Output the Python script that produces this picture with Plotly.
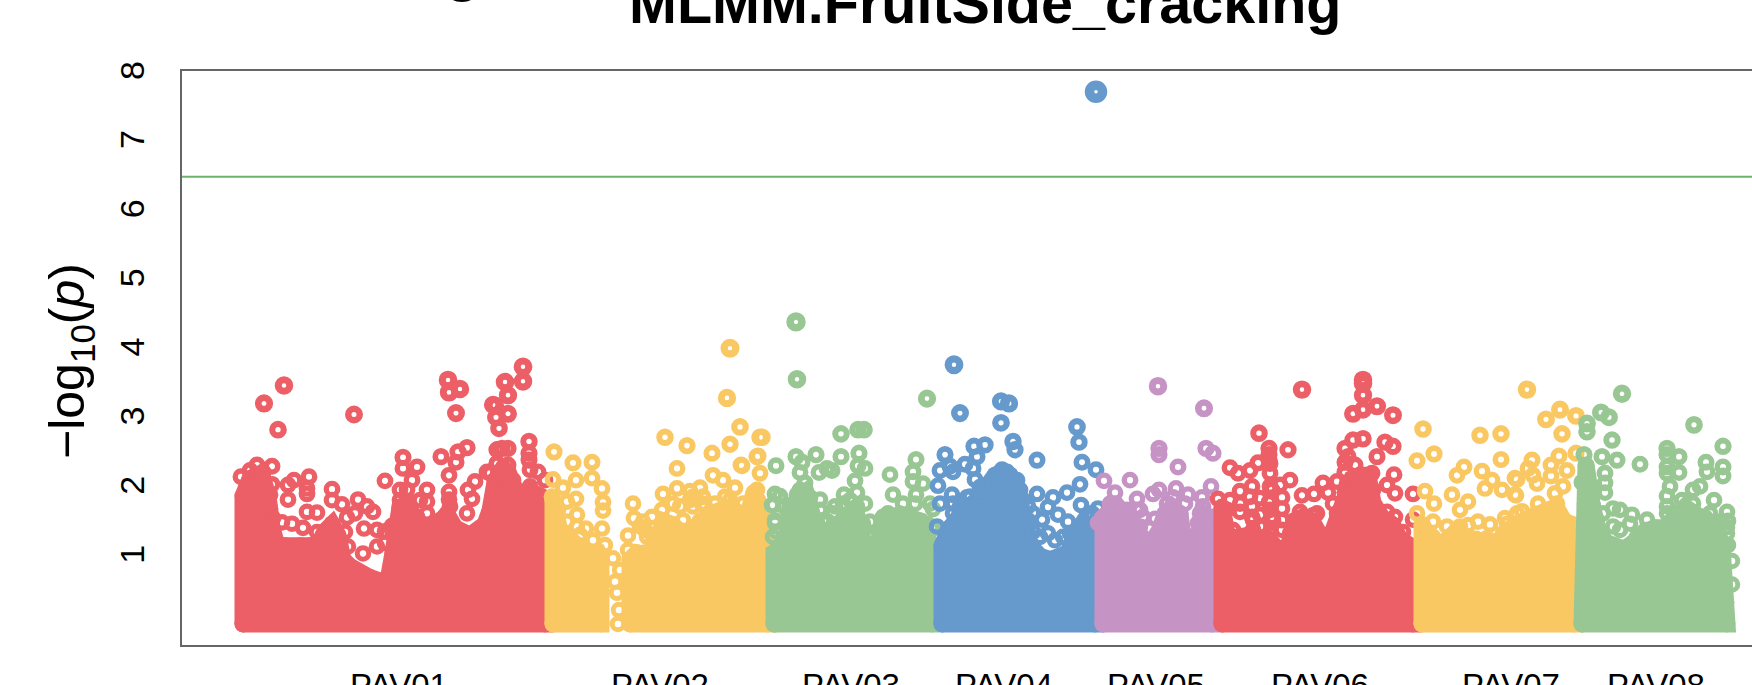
import numpy as np
import plotly.graph_objects as go

# ---------- axis content ----------
chrom_labels = ["PAV01", "PAV02", "PAV03", "PAV04", "PAV05", "PAV06", "PAV07", "PAV08"]
chrom_label_pos = [399, 660, 851, 1004, 1156, 1320, 1511, 1656]
y_ticks = [1, 2, 3, 4, 5, 6, 7, 8]
threshold = 6.47
title_main = "MLMM.FruitSide_cracking"

RED, YEL, GRN, BLU, PUR = "#EC5F67", "#FAC863", "#99C794", "#6699CC", "#C594C5"

# ---------- upper edge of the solid mass of overlapping points, per chromosome block ----------
mass1_x = [243, 243, 250, 257, 263, 268, 272, 278, 285, 300, 310, 318, 325, 332, 338, 343, 350, 360, 370, 380, 388, 393, 398, 400, 408, 416, 425, 435, 447, 455, 470, 478, 485, 490, 495, 503, 508, 515, 520, 527, 533, 540, 545, 545]
mass1_y = [0, 1.85, 2.1, 2.15, 2.1, 1.85, 1.39, 1.08, 1.13, 1.13, 1.13, 1.13, 1.34, 1.44, 1.28, 0.93, 0.83, 0.72, 0.67, 0.62, 0.62, 1.03, 1.44, 1.69, 1.74, 1.44, 1.39, 1.39, 1.59, 1.39, 1.28, 1.34, 1.44, 1.64, 2.05, 2.25, 2.2, 1.95, 1.59, 1.69, 1.9, 1.85, 1.44, 0]
mass2a_x = [553, 553, 560, 568, 578, 590, 598, 601, 601]
mass2a_y = [0, 1.79, 1.34, 1.23, 1.13, 1.03, 1.03, 0.93, 0]
mass2b_x = [630, 630, 637, 645, 652, 658, 663, 672, 680, 690, 700, 710, 720, 730, 740, 748, 754, 760, 765, 768]
mass2b_y = [0, 0.93, 1.03, 1.03, 0.98, 1.18, 1.49, 1.44, 1.34, 1.34, 1.49, 1.59, 1.64, 1.69, 1.59, 1.59, 1.9, 1.69, 1.34, 0]
mass3_x = [774, 774, 780, 786, 790, 798, 806, 812, 818, 826, 834, 842, 850, 856, 862, 870, 876, 882, 890, 900, 910, 920, 928, 932, 932]
mass3_y = [0, 1.03, 1.08, 1.13, 1.69, 1.79, 1.9, 1.59, 1.39, 1.34, 1.39, 1.44, 1.59, 1.64, 1.23, 1.08, 1.03, 1.44, 1.54, 1.59, 1.54, 1.49, 1.23, 1.08, 0]
mass4_x = [942, 942, 950, 958, 968, 977, 987, 995, 1002, 1010, 1016, 1022, 1030, 1040, 1050, 1060, 1068, 1075, 1082, 1090, 1095, 1095]
mass4_y = [0, 1.13, 1.39, 1.54, 1.69, 1.79, 2.0, 2.15, 2.2, 2.15, 2.0, 1.5, 1.13, 0.98, 0.93, 0.98, 1.03, 1.28, 1.44, 1.34, 1.23, 0]
mass5_x = [1103, 1103, 1110, 1118, 1126, 1134, 1142, 1150, 1158, 1165, 1172, 1180, 1184, 1192, 1198, 1204, 1210, 1212]
mass5_y = [0, 1.54, 1.64, 1.69, 1.54, 1.44, 1.23, 1.18, 1.28, 1.59, 1.69, 1.59, 1.18, 1.13, 1.23, 1.59, 1.54, 0]
mass6_x = [1222, 1222, 1228, 1238, 1248, 1258, 1268, 1278, 1288, 1294, 1302, 1312, 1320, 1330, 1338, 1345, 1352, 1360, 1368, 1373, 1382, 1392, 1400, 1410, 1413]
mass6_y = [0, 1.69, 1.23, 1.23, 1.28, 1.13, 1.23, 1.08, 1.08, 1.49, 1.54, 1.49, 1.28, 1.23, 1.55, 1.9, 2.1, 2.15, 2.15, 1.75, 1.54, 1.44, 1.23, 1.13, 0]
mass7_x = [1422, 1422, 1430, 1438, 1448, 1456, 1466, 1476, 1486, 1496, 1506, 1516, 1526, 1536, 1546, 1556, 1564, 1572, 1574]
mass7_y = [0, 1.44, 1.23, 1.08, 1.23, 1.34, 1.23, 1.23, 1.23, 1.18, 1.28, 1.44, 1.49, 1.59, 1.64, 1.69, 1.49, 1.44, 0]
mass8_x = [1582, 1582, 1586, 1592, 1598, 1606, 1614, 1624, 1634, 1645, 1655, 1665, 1675, 1685, 1695, 1705, 1715, 1722, 1726, 1727]
mass8_y = [0, 2.05, 2.3, 1.74, 1.34, 1.18, 1.13, 1.08, 1.18, 1.34, 1.39, 1.39, 1.54, 1.69, 1.59, 1.54, 1.44, 1.13, 0.31, 0]

# ---------- individually visible points, per chromosome ----------
chr1_x = [284, 264, 278, 354, 448, 449, 460, 456, 272, 241, 257, 250, 263, 309, 294, 288, 272, 288, 307, 307, 270, 332, 332, 342, 358, 367, 373, 307, 317, 347, 282, 364, 377, 392, 385, 303, 385, 403, 403, 417, 412, 400, 427, 400, 427, 441, 467, 458, 456, 449, 449, 449, 475, 468, 472, 487, 497, 497, 497,
          523, 523, 505, 508, 493, 508, 496, 499, 495, 529, 529, 529, 502, 508, 498, 490, 497, 508, 505, 500, 513, 530, 538, 545, 530, 493, 490,
          270, 273, 292, 317, 332, 333, 345, 348, 363, 355, 377, 385, 393, 400, 417, 427, 440, 450, 467, 420, 407]
chr1_y = [3.45, 3.19, 2.81, 3.03, 3.53, 3.35, 3.40, 3.05, 2.28, 2.13, 2.30, 2.22, 2.20, 2.13, 2.08, 2.01, 2.02, 1.80, 1.88, 1.96, 1.87, 1.95, 1.79, 1.73, 1.80, 1.70, 1.62, 1.62, 1.61, 1.54, 1.47, 1.38, 1.36, 1.42, 1.34, 1.39, 2.07, 2.41, 2.25, 2.27, 2.08, 1.94, 1.94, 1.79, 1.77, 2.42, 2.55, 2.49, 2.34, 2.15, 1.91, 1.80, 2.06, 1.94, 1.81, 2.20, 2.32, 2.08, 2.52,
          3.72, 3.51, 3.50, 3.31, 3.17, 3.04, 2.99, 2.83, 3.16, 2.64, 2.47, 2.37, 2.54, 2.54, 2.52, 2.18, 2.32, 2.30, 2.18, 2.04, 2.08, 2.23, 2.20, 2.08, 1.99, 1.74, 1.62,
          1.67, 1.53, 1.45, 1.33, 1.45, 1.17, 1.33, 1.12, 1.02, 1.60, 1.12, 1.17, 1.31, 1.65, 1.55, 1.60, 1.50, 1.70, 1.60, 1.79, 1.94]
chr2_x = [554, 573, 592, 576, 592, 553, 563, 602, 603, 603, 576, 567, 577, 602, 586, 580, 605, 613, 620, 615, 633, 634, 628, 643, 652, 645, 653, 628, 663, 677, 677, 665, 687, 712, 740, 730, 741, 727, 730, 760, 757, 713, 723, 700, 690, 735, 705, 715, 662, 673, 690, 743,
          762, 758, 742, 760, 757, 758, 618, 619, 617,
          552, 558, 567, 577, 593, 640, 647, 652, 680, 693, 702, 725, 730, 693, 703, 683]
chr2_y = [2.49, 2.33, 2.34, 2.08, 2.11, 2.09, 1.97, 1.96, 1.76, 1.64, 1.81, 1.77, 1.58, 1.38, 1.38, 1.29, 1.14, 0.95, 0.78, 0.61, 1.74, 1.53, 1.28, 1.48, 1.55, 1.36, 1.21, 1.07, 1.88, 1.96, 2.25, 2.70, 2.58, 2.47, 2.85, 2.60, 2.30, 3.27, 3.99, 2.70, 2.42, 2.15, 2.08, 1.97, 1.92, 1.97, 1.70, 1.74, 1.65, 1.74, 1.79, 1.74,
          2.70, 2.43, 2.29, 2.18, 1.94, 1.79, 0.0, 0.2, 0.45,
          1.84, 1.65, 1.48, 1.41, 1.21, 1.41, 1.26, 1.02, 1.70, 1.70, 1.74, 1.84, 1.79, 1.84, 1.84, 1.50]
chr3_x = [796, 797, 927, 841, 858, 864, 776, 796, 802, 816, 841, 859, 819, 827, 832, 800, 858, 865, 855, 805, 890, 916, 913, 913, 923, 775, 780, 772, 797, 810, 820, 820, 784, 844, 857, 865, 835, 893, 903, 916, 930, 933, 915, 883, 828, 860, 870, 937, 773, 775,
          773, 775, 777, 800, 790, 807, 833, 850, 857, 863, 873, 888, 927, 932, 843, 823, 817]
chr3_y = [4.37, 3.54, 3.26, 2.75, 2.81, 2.81, 2.29, 2.42, 2.34, 2.45, 2.42, 2.47, 2.19, 2.25, 2.22, 2.19, 2.29, 2.25, 2.07, 2.04, 2.16, 2.38, 2.20, 2.06, 2.03, 1.88, 1.85, 1.72, 1.87, 1.83, 1.80, 1.65, 1.70, 1.87, 1.90, 1.74, 1.70, 1.87, 1.74, 1.87, 1.74, 1.66, 1.74, 1.55, 1.48, 1.47, 1.48, 1.23, 1.26, 1.46,
          1.72, 1.50, 1.33, 1.94, 1.70, 1.70, 1.60, 1.79, 1.70, 1.45, 1.26, 1.60, 1.45, 1.40, 1.74, 1.50, 1.45]
chr4_x = [1096, 954, 960, 1001, 1009, 1001, 1013, 1015, 945, 974, 985, 977, 940, 953, 950, 965, 973, 975, 938, 952, 953, 1002, 1010, 990, 967, 985,
          1037, 1077, 1079, 1082, 1096, 1080, 1037, 1053, 1067, 1048, 1058, 1068, 1042, 1033, 1028, 1081, 1098, 1048, 1055, 1020, 1007, 1013,
          937, 940, 953, 960, 970, 980, 980, 993, 1000, 1017, 1023, 1028, 1033, 1040, 1063, 1070, 1087, 1092]
chr4_y = [7.70, 3.75, 3.05, 3.22, 3.19, 2.91, 2.64, 2.52, 2.45, 2.57, 2.59, 2.42, 2.22, 2.20, 2.28, 2.31, 2.25, 2.09, 2.00, 1.87, 1.74, 2.23, 2.13, 2.03, 1.83, 1.94,
          2.37, 2.85, 2.63, 2.34, 2.23, 2.02, 1.88, 1.83, 1.90, 1.69, 1.58, 1.48, 1.51, 1.60, 1.70, 1.72, 1.67, 1.31, 1.21, 1.94, 2.20, 2.08,
          1.41, 1.74, 1.60, 1.70, 1.84, 1.98, 1.70, 2.03, 2.18, 2.08, 1.79, 1.50, 1.33, 1.26, 1.26, 1.31, 1.55, 1.60]
chr5_x = [1158, 1204, 1159, 1159, 1206, 1213, 1178, 1130, 1104, 1115, 1137, 1153, 1159, 1176, 1188, 1202, 1211, 1167, 1155, 1140, 1200, 1198, 1115, 1173, 1185, 1098,
          1110, 1117, 1127, 1137, 1143, 1150, 1157, 1165, 1173, 1180, 1200, 1197, 1203, 1213, 1140]
chr5_y = [3.44, 3.12, 2.54, 2.45, 2.54, 2.47, 2.27, 2.08, 2.07, 1.90, 1.81, 1.88, 1.94, 1.96, 1.87, 1.83, 1.99, 1.74, 1.52, 1.65, 1.60, 1.46, 1.74, 1.83, 1.74, 1.46,
          1.74, 1.60, 1.65, 1.65, 1.55, 1.38, 1.31, 1.60, 1.70, 1.60, 1.41, 1.31, 1.70, 1.55, 1.41]
chr6_x = [1259, 1269, 1269, 1230, 1238, 1250, 1258, 1270, 1270, 1218, 1240, 1252, 1252, 1240, 1272, 1227, 1222,
          1302, 1363, 1363, 1363, 1353, 1363, 1377, 1393, 1288, 1269, 1353, 1363, 1345, 1348, 1345, 1377, 1385, 1393, 1290, 1394, 1387, 1395, 1413, 1302, 1314, 1328, 1323, 1337, 1280, 1282, 1270, 1269, 1282, 1272, 1260, 1300, 1313, 1337, 1345, 1372, 1413, 1387, 1395,
          1252, 1260, 1260, 1270, 1282, 1282, 1270, 1250, 1253, 1290, 1298, 1347, 1337, 1383, 1387, 1403, 1380, 1317, 1333, 1347, 1355, 1373, 1345, 1230, 1240, 1253, 1233, 1263, 1273]
chr6_y = [2.76, 2.54, 2.45, 2.26, 2.18, 2.22, 2.33, 2.32, 2.18, 1.81, 1.92, 1.99, 1.70, 1.62, 1.94, 1.65, 1.46,
          3.39, 3.53, 3.48, 3.31, 3.04, 3.10, 3.15, 3.02, 2.52, 2.38, 2.66, 2.68, 2.54, 2.42, 2.34, 2.42, 2.63, 2.57, 2.08, 2.16, 2.01, 1.89, 1.88, 1.86, 1.88, 1.90, 2.04, 2.06, 2.01, 1.83, 1.99, 1.76, 1.67, 1.55, 1.41, 1.62, 1.57, 1.60, 2.18, 2.18, 1.51, 1.62, 1.55,
          1.55, 1.82, 1.58, 1.65, 1.50, 1.36, 1.31, 1.84, 1.36, 1.31, 1.17, 1.43, 1.33, 1.41, 1.26, 1.33, 1.50, 1.60, 1.74, 2.03, 2.30, 1.94, 2.20, 1.79, 1.74, 1.50, 1.36, 1.41, 1.50]
chr7_x = [1423, 1434, 1417, 1480, 1501, 1501, 1464, 1457, 1482, 1492, 1485, 1502, 1515, 1515, 1452, 1425, 1434, 1468, 1460, 1478, 1505, 1490, 1417,
          1527, 1560, 1546, 1576, 1562, 1559, 1576, 1551, 1567, 1551, 1532, 1528, 1533, 1537, 1517, 1516, 1555, 1563, 1538, 1522,
          1433, 1433, 1447, 1447, 1460, 1468, 1503, 1490, 1517, 1515, 1507, 1505, 1530, 1522, 1557, 1550, 1513]
chr7_y = [2.82, 2.46, 2.36, 2.73, 2.75, 2.38, 2.27, 2.15, 2.21, 2.08, 1.96, 1.94, 2.11, 1.87, 1.87, 1.92, 1.74, 1.77, 1.65, 1.48, 1.53, 1.44, 1.60,
          3.39, 3.10, 2.96, 3.01, 2.75, 2.43, 2.47, 2.30, 2.22, 2.14, 2.37, 2.25, 2.15, 2.03, 2.09, 1.86, 1.89, 1.99, 1.74, 1.63,
          1.48, 1.26, 1.07, 1.41, 1.41, 1.43, 1.31, 1.21, 1.60, 1.36, 1.45, 1.26, 1.43, 1.45, 1.74, 1.60, 1.17]
chr8_x = [1622, 1601, 1609, 1587, 1587, 1612, 1694, 1723, 1602, 1617, 1640, 1584, 1605, 1605, 1605, 1667, 1667, 1679, 1667, 1679, 1667, 1706, 1707, 1723, 1723, 1670, 1667, 1700, 1693, 1682, 1714, 1727, 1728, 1727, 1728, 1732, 1732, 1613, 1620, 1632, 1647, 1667, 1678, 1585, 1595, 1633,
          1593, 1597, 1603, 1613, 1620, 1630, 1637, 1647, 1657, 1667, 1677, 1683, 1693, 1710, 1720, 1727, 1725]
chr8_y = [3.33, 3.06, 2.99, 2.90, 2.78, 2.66, 2.88, 2.57, 2.42, 2.37, 2.31, 2.45, 2.18, 2.04, 1.90, 2.54, 2.45, 2.42, 2.27, 2.19, 2.18, 2.34, 2.20, 2.27, 2.14, 1.99, 1.85, 1.99, 1.94, 1.79, 1.79, 1.62, 1.49, 1.31, 1.14, 0.91, 0.57, 1.67, 1.65, 1.58, 1.51, 1.60, 1.26, 1.74, 1.51, 1.17,
          1.70, 1.50, 1.60, 1.41, 1.36, 1.45, 1.26, 1.26, 1.26, 1.70, 1.36, 1.60, 1.74, 1.60, 1.48, 1.40, 1.12]

blocks = [
    (RED, [(mass1_x, mass1_y)], chr1_x, chr1_y),
    (YEL, [(mass2a_x, mass2a_y), (mass2b_x, mass2b_y)], chr2_x, chr2_y),
    (GRN, [(mass3_x, mass3_y)], chr3_x, chr3_y),
    (BLU, [(mass4_x, mass4_y)], chr4_x, chr4_y),
    (PUR, [(mass5_x, mass5_y)], chr5_x, chr5_y),
    (RED, [(mass6_x, mass6_y)], chr6_x, chr6_y),
    (YEL, [(mass7_x, mass7_y)], chr7_x, chr7_y),
    (GRN, [(mass8_x, mass8_y)], chr8_x, chr8_y),
]

fig = go.Figure()
for colour, masses, px, py in blocks:
    for mx, my in masses:
        fig.add_trace(go.Scatter(x=list(mx) + [mx[0]], y=list(my) + [my[0]], mode="lines+markers",
                                 fill="toself", fillcolor=colour,
                                 line=dict(color=colour, width=17),
                                 marker=dict(symbol="circle", size=17, color=colour, line=dict(width=0)),
                                 hoverinfo="skip", showlegend=False))
    ya = np.array(py, dtype=float)
    fig.add_trace(go.Scatter(x=px, y=py, mode="markers", showlegend=False,
                             marker=dict(symbol="circle-open", color=colour, opacity=1,
                                         size=np.interp(ya, [1, 3.4, 7.7], [11.5, 11.5, 13]),
                                         line=dict(color=colour, width=np.interp(ya, [1, 2.25, 3.4, 7.7], [5, 5.4, 7, 9.5])))))

fig.add_shape(type="line", xref="paper", x0=0, x1=1, yref="y", y0=threshold, y1=threshold,
              line=dict(color="#6DB36D", width=2), layer="above")

FONT = "Liberation Sans, Arial, sans-serif"
P_W, P_H = 1570, 574
def px_x(p): return (p - 182) / P_W
def px_y(p): return (645 - p) / P_H

fig.add_annotation(text="<b>%s</b>" % title_main, xref="paper", yref="paper", x=px_x(985), y=px_y(3),
                   xanchor="center", yanchor="middle", showarrow=False,
                   font=dict(family=FONT, size=57.5, color="#000000"))
fig.add_annotation(text="<b>g</b>", xref="paper", yref="paper", x=px_x(462), y=px_y(-30),
                   xanchor="center", yanchor="middle", showarrow=False,
                   font=dict(family=FONT, size=57.5, color="#000000"))
fig.add_annotation(text="\u2212log<sub>10</sub>(<i>p</i>)", xref="paper", yref="paper", x=px_x(70), y=px_y(361),
                   xanchor="center", yanchor="middle", textangle=-90, showarrow=False,
                   font=dict(family=FONT, size=50, color="#000000"))
for v in y_ticks:
    fig.add_annotation(text=str(v), xref="paper", yref="y", x=px_x(132), y=v,
                       xanchor="center", yanchor="middle", textangle=-90, showarrow=False,
                       font=dict(family=FONT, size=34, color="#000000"))

fig.update_layout(
    width=1752, height=685, autosize=False, paper_bgcolor="white", plot_bgcolor="white",
    margin=dict(l=182, r=0, t=71, b=40, pad=0), showlegend=False,
    font=dict(family=FONT, color="#000000"),
    xaxis=dict(range=[182, 1752], tickmode="array", tickvals=chrom_label_pos, ticktext=chrom_labels, automargin=False,
               showgrid=False, zeroline=False, showline=True, mirror=True, linecolor="#666666", linewidth=2,
               ticks="", ticklabelstandoff=10, ticklabeloverflow="allow", tickfont=dict(size=33, family=FONT)),
    yaxis=dict(range=[-0.305, 8.0], tickmode="array", tickvals=y_ticks, showticklabels=False, automargin=False,
               showgrid=False, zeroline=False, showline=True, linecolor="#666666", linewidth=2, ticks=""),
)

fig.write_html("out.html", config={"displayModeBar": False},
               post_script="document.body.style.margin='0';document.body.style.overflow='hidden';")
